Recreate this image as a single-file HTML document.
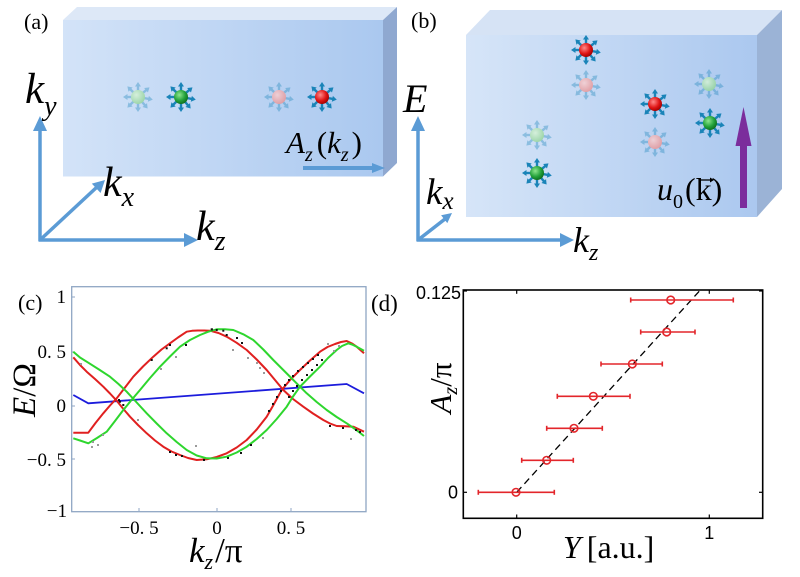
<!DOCTYPE html>
<html><head><meta charset="utf-8"><style>
html,body{margin:0;padding:0;background:#fff;}
svg{display:block;}
.ser{font-family:"Liberation Serif",serif;}
.san{font-family:"Liberation Sans",sans-serif;}
</style></head><body>
<svg width="800" height="577" viewBox="0 0 800 577" xmlns="http://www.w3.org/2000/svg">
<defs>
 <linearGradient id="fa" x1="0" x2="1" y1="0" y2="0"><stop offset="0" stop-color="#d3e3f8"/><stop offset="1" stop-color="#aac8ef"/></linearGradient>
 <linearGradient id="fb" x1="0" x2="1" y1="0" y2="0"><stop offset="0" stop-color="#d6e5f8"/><stop offset="1" stop-color="#abc8ef"/></linearGradient>
 <radialGradient id="gG" cx="0.38" cy="0.35" r="0.7"><stop offset="0" stop-color="#8ee68e"/><stop offset="0.6" stop-color="#23a13a"/><stop offset="1" stop-color="#0c6a1c"/></radialGradient>
 <radialGradient id="gR" cx="0.38" cy="0.35" r="0.7"><stop offset="0" stop-color="#ff8a8a"/><stop offset="0.6" stop-color="#e01515"/><stop offset="1" stop-color="#9a0000"/></radialGradient>
 <radialGradient id="gg" cx="0.38" cy="0.35" r="0.7"><stop offset="0" stop-color="#d8f4d6"/><stop offset="1" stop-color="#8fd294"/></radialGradient>
 <radialGradient id="gr" cx="0.38" cy="0.35" r="0.7"><stop offset="0" stop-color="#fbd0d0"/><stop offset="1" stop-color="#e89090"/></radialGradient>
 <g id="ar"><line x1="0" y1="-6.5" x2="0" y2="-11" stroke="#1a84b8" stroke-width="2.4"/><polygon points="-3,-10.5 3,-10.5 0,-15" fill="#1a84b8"/></g>
 <g id="st">
  <use href="#ar"/><use href="#ar" transform="rotate(50)"/><use href="#ar" transform="rotate(100)"/>
  <use href="#ar" transform="rotate(140)"/><use href="#ar" transform="rotate(180)"/><use href="#ar" transform="rotate(225)"/>
  <use href="#ar" transform="rotate(270)"/><use href="#ar" transform="rotate(315)"/>
 </g>
 <g id="pG"><use href="#st"/><circle r="7" fill="url(#gG)"/></g>
 <g id="pR"><use href="#st"/><circle r="7" fill="url(#gR)"/></g>
 <g id="pg" opacity="0.8"><use href="#st" opacity="0.45"/><circle r="7" fill="url(#gg)"/></g>
 <g id="pr" opacity="0.8"><use href="#st" opacity="0.45"/><circle r="7" fill="url(#gr)"/></g>
</defs>
<rect width="800" height="577" fill="#fff"/>

<!-- Panel (a) box -->
<polygon points="63,20 77,7 397,7 383,20" fill="#dde8f7"/>
<rect x="63" y="20" width="320" height="156.5" fill="url(#fa)"/>
<polygon points="383,20 397,7 397,163 383,176.5" fill="#8fa8d0"/>

<use href="#pg" x="138" y="97"/>
<use href="#pG" x="181" y="97"/>
<use href="#pr" x="279" y="97"/>
<use href="#pR" x="322" y="97"/>

<!-- A_z arrow -->
<line x1="303" y1="168" x2="373" y2="168" stroke="#5b9bd5" stroke-width="4"/>
<polygon points="372,163 372,173 385,168" fill="#5b9bd5"/>
<text class="ser" x="286" y="153" font-size="31" font-style="italic">A<tspan font-size="20" dy="8">z</tspan><tspan font-style="normal" dy="-8" dx="4">(</tspan>k<tspan font-size="20" dy="8">z</tspan><tspan font-style="normal" dy="-8" dx="3">)</tspan></text>

<!-- axes (a) -->
<g stroke="#5b9bd5" stroke-width="3.5" fill="none">
 <line x1="40" y1="241" x2="40" y2="128"/>
 <line x1="38.5" y1="240" x2="186" y2="240"/>
 <line x1="40" y1="240" x2="97" y2="187"/>
</g>
<g fill="#5b9bd5">
 <polygon points="33,131 47,131 40,116"/>
 <polygon points="184,233 184,247 198,240"/>
 <polygon points="100.6,193 91.8,183.6 105,180"/>
</g>
<text class="ser" x="25" y="103" font-size="43" font-style="italic">k<tspan font-size="28" dy="12">y</tspan></text>
<text class="ser" x="103" y="196" font-size="42" font-style="italic">k<tspan font-size="28" dy="10">x</tspan></text>
<text class="ser" x="196" y="240" font-size="42" font-style="italic">k<tspan font-size="28" dy="10">z</tspan></text>
<text class="ser" x="24" y="29" font-size="22">(a)</text>

<!-- Panel (b) box -->
<polygon points="466,35 490,10 782,10 757,35" fill="#d6e3f5"/>
<rect x="466" y="35" width="291" height="182" fill="url(#fb)"/>
<polygon points="757,35 782,10 782,189 757,217" fill="#9bb3d6"/>

<use href="#pR" x="586" y="50"/>
<use href="#pr" x="586" y="85"/>
<use href="#pR" x="655" y="104"/>
<use href="#pr" x="655" y="142"/>
<use href="#pg" x="709" y="84"/>
<use href="#pG" x="710" y="123"/>
<use href="#pg" x="537" y="135"/>
<use href="#pG" x="537" y="173"/>

<!-- purple arrow -->
<rect x="740" y="140" width="7" height="68" fill="#7b2d9c"/>
<polygon points="735.5,146 751.5,146 743.5,107" fill="#7b2d9c"/>
<text class="ser" x="657" y="200" font-size="32"><tspan font-style="italic">u</tspan><tspan font-size="20" dy="8">0</tspan><tspan dy="-8" dx="2">(k)</tspan></text>
<line x1="701" y1="180" x2="712" y2="180" stroke="#000" stroke-width="1.3"/>
<polygon points="710,177.5 714,180 710,182.5" fill="#000"/>

<!-- axes (b) -->
<g stroke="#5b9bd5" stroke-width="3.5" fill="none">
 <line x1="418" y1="241" x2="418" y2="129"/>
 <line x1="416.5" y1="240" x2="562" y2="240"/>
 <line x1="418" y1="240" x2="445" y2="219"/>
</g>
<g fill="#5b9bd5">
 <polygon points="411,131 425,131 418,116"/>
 <polygon points="560,233 560,247 574,240"/>
 <polygon points="447.3,223.1 441.1,215.3 452,213"/>
</g>
<text class="ser" x="403" y="112" font-size="40" font-style="italic">E</text>
<text class="ser" x="426" y="204" font-size="37" font-style="italic">k<tspan font-size="25" dy="5">x</tspan></text>
<text class="ser" x="573" y="252" font-size="36" font-style="italic">k<tspan font-size="24" dy="8">z</tspan></text>
<text class="ser" x="411" y="28" font-size="22">(b)</text>

<!-- Panel (c) -->
<rect x="71.7" y="286.7" width="294.3" height="225" fill="#fff" stroke="#8fa6c4" stroke-width="1.3"/>
<g stroke="#8fa6c4" stroke-width="1">
 <line x1="72" y1="297" x2="75" y2="297"/><line x1="72" y1="352" x2="75" y2="352"/>
 <line x1="72" y1="406" x2="75" y2="406"/><line x1="72" y1="459" x2="75" y2="459"/>
 <line x1="139" y1="511" x2="139" y2="508"/><line x1="217" y1="511" x2="217" y2="508"/><line x1="291" y1="511" x2="291" y2="508"/>
</g>
<g fill="none" stroke-width="2" stroke-linejoin="round">
 <polyline stroke="#1c1cdc" stroke-width="1.8" points="73.3,395 88.3,403.3 346.7,384 364,393.3"/>
 <polyline stroke="#e02020" points="73.3,357.3 80,365 86.7,371.7 95,379 103.3,386.7 110,393.5 116.7,400.7 123,408.5 130,416.7 138,425 146.7,433.3 155,440.5 163.3,446.7 171.5,451.5 180,455 188,458 196.7,460 206.7,459.3 216.7,457 226.7,453.3 236.7,447.5 246.7,440 256.7,429.5 266.7,416.7 274,404 281.7,390 290.5,379.5 300,370 310,360.5 320,351.7 327.5,347 335,344 341,342 346.7,341 352,343.5 356.7,346.7 364,353.3"/>
 <polyline stroke="#e02020" points="73.3,432.7 88.3,432.7 95.5,423 103.3,413.3 110,405.5 116.7,398.3 125,387.5 133.3,376.7 143,366.5 153.3,356.7 161.5,349.5 170,343.3 178,337.5 186.7,331.7 192,330.8 198,330.5 204,330.5 210,330.7 218.5,333 226.7,336.7 236.7,342.8 246.7,350 256.7,359.5 266.7,370 275,380 283.3,390 293,399 303.3,406.7 313,413.5 323.3,420 330,423.5 336.7,426 345,426.3 353.3,426.7 364,431.7"/>
 <polyline stroke="#2ed62e" points="73.3,351.7 80,357.5 88.3,362.7 99,369.5 110,376.7 118.5,384 126.7,391.7 136.7,402.5 146.7,413.3 156.7,423.5 166.7,433.3 176.7,442 186.7,450 196.7,455.5 206.7,458.3 216.7,458.5 226.7,456.7 236.7,452.5 246.7,446.7 256.7,439 266.7,430 276.7,419 286.7,406.7 293,396.5 300,386.7 310,376.5 320,366.7 328,358 336.7,350 342,346 348.3,343.3 352,344.5 356.7,346.7 364,350.7"/>
 <polyline stroke="#2ed62e" points="73.3,438.3 80,440.5 88.3,443.3 97,438 106.7,431.7 115,421 123.3,410 131.5,400 140,390 150,378 160,366.7 170,356.5 180,346.7 190,340 200,335 208,331.8 216.7,329.3 225,329.2 233.3,330 243.3,334.3 253.3,340 263.3,349.5 273.3,360 283.3,370 293.3,380 300,386.7 306.7,393.3 316.7,402 326.7,410 336.7,417 346.7,423.3 355,429 364,436"/>
</g>
<g fill="#111">
 <rect x="150.7" y="359" width="2" height="2"/><rect x="165.7" y="347.3" width="2" height="2"/><rect x="169" y="344" width="2" height="2"/><rect x="185" y="344" width="2" height="2"/>
 <rect x="210.7" y="328.3" width="2.2" height="2.2"/><rect x="215.7" y="329" width="2" height="2"/><rect x="222.3" y="329.7" width="2" height="2"/><rect x="225.7" y="334" width="2" height="2"/>
 <rect x="119" y="400.7" width="2" height="2"/><rect x="122.3" y="404" width="2" height="2"/><rect x="118" y="399" width="2" height="2"/>
 <rect x="169" y="451" width="2" height="2"/><rect x="175" y="454" width="2" height="2"/><rect x="181" y="455" width="2" height="2"/><rect x="203" y="459" width="2" height="2"/>
 <rect x="227" y="457" width="2" height="2"/><rect x="240" y="452" width="2" height="2"/><rect x="250" y="444" width="2" height="2"/>
 <rect x="268" y="410" width="2" height="2"/><rect x="272" y="403" width="2" height="2"/><rect x="276" y="396" width="2" height="2"/><rect x="280" y="390" width="2" height="2"/>
 <rect x="284" y="384" width="2" height="2"/><rect x="288" y="379" width="2" height="2"/><rect x="292" y="375" width="2" height="2"/><rect x="297" y="370" width="2" height="2"/>
 <rect x="302" y="366" width="2" height="2"/><rect x="307" y="362" width="2" height="2"/><rect x="312" y="358" width="2" height="2"/><rect x="317" y="354" width="2" height="2"/>
 <rect x="288" y="396" width="2" height="2"/><rect x="292" y="390" width="2" height="2"/><rect x="296" y="385" width="2" height="2"/><rect x="301" y="379" width="2" height="2"/>
 <rect x="306" y="374" width="2" height="2"/><rect x="311" y="369" width="2" height="2"/><rect x="316" y="364" width="2" height="2"/><rect x="321" y="359" width="2" height="2"/>
 <rect x="329" y="425" width="2" height="2"/><rect x="342" y="427" width="2" height="2"/><rect x="355" y="429" width="2" height="2"/><rect x="359" y="431" width="2" height="2"/>
 <rect x="236" y="337" width="2" height="2"/><rect x="241" y="342" width="2" height="2"/>
</g>
<g fill="#9a9a9a">
 <rect x="247" y="357" width="2" height="2"/><rect x="256" y="362" width="2" height="2"/><rect x="259" y="367" width="2" height="2"/><rect x="263" y="372" width="2" height="2"/>
 <rect x="92" y="441" width="2" height="2"/><rect x="91" y="446" width="2" height="2"/><rect x="102" y="434" width="2" height="2"/><rect x="97" y="444" width="2" height="2"/>
 <rect x="160" y="368" width="2" height="2"/><rect x="175" y="356" width="2" height="2"/><rect x="232" y="349" width="2" height="2"/><rect x="327" y="343" width="2" height="2"/>
 <rect x="333" y="350" width="2" height="2"/><rect x="338" y="345" width="2" height="2"/><rect x="262" y="437" width="2" height="2"/><rect x="195" y="445" width="2" height="2"/>
 <rect x="137" y="419" width="2" height="2"/><rect x="80" y="363" width="2" height="2"/><rect x="350" y="438" width="2" height="2"/>
</g>
<g class="ser" font-size="19" text-anchor="end">
 <text x="66" y="303">1</text>
 <text x="66" y="358">0. 5</text>
 <text x="66" y="412">0</text>
 <text x="66" y="466">−0. 5</text>
 <text x="67" y="517">−1</text>
</g>
<g class="ser" font-size="19" text-anchor="middle">
 <text x="139" y="534">−0. 5</text>
 <text x="217" y="534">0</text>
 <text x="291" y="534">0. 5</text>
</g>
<text class="ser" x="189" y="562" font-size="35"><tspan font-style="italic">k</tspan><tspan font-size="22" font-style="italic" dy="7">z</tspan><tspan dy="-7" dx="2">/π</tspan></text>
<text class="ser" transform="translate(35,390) rotate(-90)" text-anchor="middle" font-size="33"><tspan font-style="italic">E</tspan>/Ω</text>
<text class="ser" x="18" y="310" font-size="22">(c)</text>

<!-- Panel (d) -->
<rect x="463.3" y="290" width="299.4" height="228.3" fill="#fff" stroke="#000" stroke-width="1.6"/>
<g stroke="#000" stroke-width="1.2">
 <line x1="463.3" y1="492.3" x2="467" y2="492.3"/><line x1="762.7" y1="492.3" x2="759" y2="492.3"/>
 <line x1="463.3" y1="291" x2="467" y2="291"/><line x1="762.7" y1="291" x2="759" y2="291"/>
 <line x1="516.7" y1="518.3" x2="516.7" y2="514.5"/><line x1="709.3" y1="518.3" x2="709.3" y2="514.5"/>
 <line x1="516.7" y1="290" x2="516.7" y2="293.8"/><line x1="709.3" y1="290" x2="709.3" y2="293.8"/>
</g>
<line x1="516.7" y1="492.3" x2="701.7" y2="288.5" stroke="#000" stroke-width="1.3" stroke-dasharray="7,4.5"/>
<g stroke="#e3262b" stroke-width="1.6" fill="none">
 <line x1="478.3" y1="492.3" x2="554.3" y2="492.3"/><line x1="478.3" y1="489.8" x2="478.3" y2="494.8"/><line x1="554.3" y1="489.8" x2="554.3" y2="494.8"/>
 <line x1="521.7" y1="460.3" x2="573.3" y2="460.3"/><line x1="521.7" y1="457.8" x2="521.7" y2="462.8"/><line x1="573.3" y1="457.8" x2="573.3" y2="462.8"/>
 <line x1="546.7" y1="428.3" x2="602.3" y2="428.3"/><line x1="546.7" y1="425.8" x2="546.7" y2="430.8"/><line x1="602.3" y1="425.8" x2="602.3" y2="430.8"/>
 <line x1="557.3" y1="396.3" x2="630" y2="396.3"/><line x1="557.3" y1="393.8" x2="557.3" y2="398.8"/><line x1="630" y1="393.8" x2="630" y2="398.8"/>
 <line x1="601" y1="364" x2="662.3" y2="364"/><line x1="601" y1="361.5" x2="601" y2="366.5"/><line x1="662.3" y1="361.5" x2="662.3" y2="366.5"/>
 <line x1="640.7" y1="332" x2="695" y2="332"/><line x1="640.7" y1="329.5" x2="640.7" y2="334.5"/><line x1="695" y1="329.5" x2="695" y2="334.5"/>
 <line x1="630.7" y1="300" x2="733.3" y2="300"/><line x1="630.7" y1="297.5" x2="630.7" y2="302.5"/><line x1="733.3" y1="297.5" x2="733.3" y2="302.5"/>
 <circle cx="516" cy="492.3" r="3.8"/><circle cx="546.7" cy="460.3" r="3.8"/><circle cx="574" cy="428.3" r="3.8"/>
 <circle cx="593.3" cy="396.3" r="3.8"/><circle cx="632.3" cy="364" r="3.8"/><circle cx="666.7" cy="332" r="3.8"/><circle cx="670.7" cy="300" r="3.8"/>
</g>
<g class="san" font-size="18">
 <text x="461" y="299" text-anchor="end">0.125</text>
 <text x="458" y="498.5" text-anchor="end">0</text>
 <text x="516.7" y="539" text-anchor="middle">0</text>
 <text x="709.3" y="539" text-anchor="middle">1</text>
</g>
<text class="ser" x="563" y="558" font-size="32"><tspan font-style="italic">Y</tspan><tspan dx="6">[a.u.]</tspan></text>
<text class="ser" transform="translate(451,388) rotate(-90)" text-anchor="middle" font-size="31"><tspan font-style="italic">A</tspan><tspan font-size="20" font-style="italic" dy="6">z</tspan><tspan dy="-6">/π</tspan></text>
<text class="ser" x="371" y="311" font-size="23">(d)</text>
</svg>
</body></html>
